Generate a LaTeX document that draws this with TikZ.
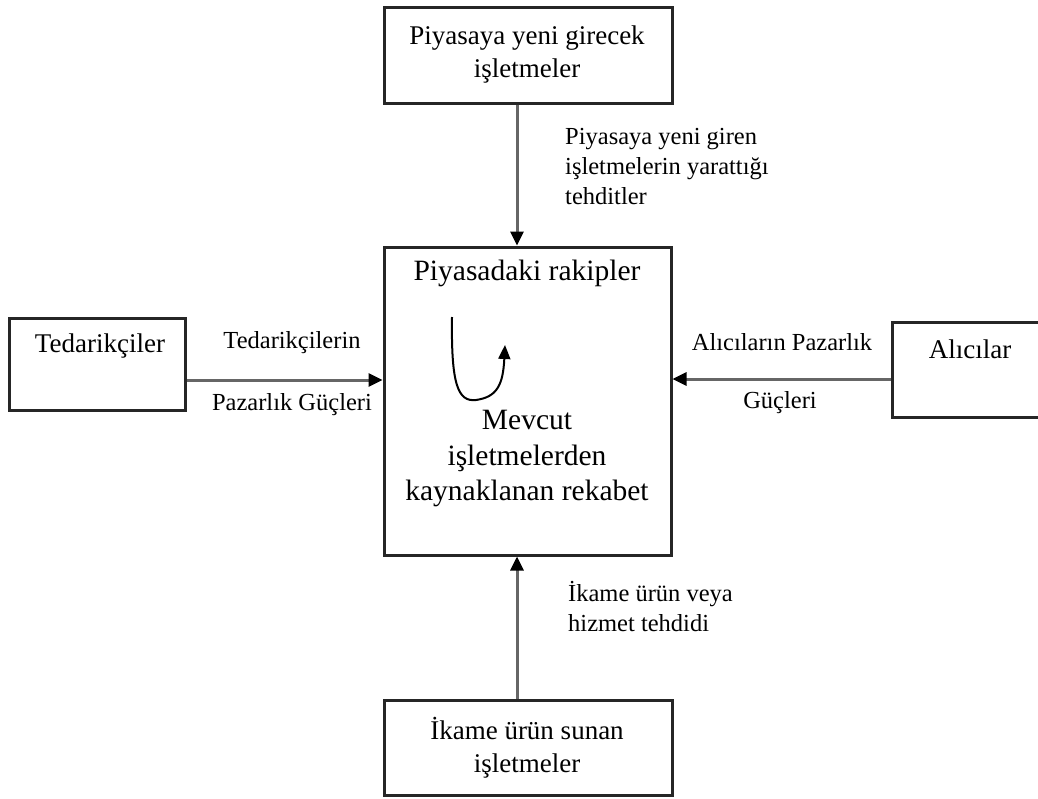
\documentclass[tikz,border=0pt]{standalone}
\usepackage{fontspec}
\setmainfont{Liberation Serif}
\usetikzlibrary{arrows.meta}
\tikzset{
  box/.style={draw=black!85, line width=3pt, inner sep=0pt},
  arr/.style={draw=black!60, line width=3pt, -{Triangle[length=14pt,width=13pt,fill=black,color=black]}},
  boxtext/.style={font=\fontsize{27}{33}\selectfont, align=center, inner sep=0pt},
  midtext/.style={font=\fontsize{29.5}{35.5}\selectfont, align=center, inner sep=0pt},
  lbl/.style={font=\fontsize{24.5}{30}\selectfont, inner sep=0pt},
}
\begin{document}
\begin{tikzpicture}[x=1pt,y=-1pt]
\useasboundingbox (0,0) rectangle (1038,798);
% boxes
\node[box, minimum width=288pt, minimum height=96pt] (top) at (528,55) {};
\node[box, minimum width=287pt, minimum height=308pt] (mid) at (527.5,401) {};
\node[box, minimum width=176pt, minimum height=92pt] (left) at (97,364) {};
\node[box, minimum width=156pt, minimum height=95pt] (right) at (970,369.5) {};
\node[box, minimum width=288pt, minimum height=95pt] (bot) at (528,747.5) {};
% box texts
\node[boxtext] (topt) at (527,55) {Piyasaya yeni girecek\\işletmeler};
\node[boxtext] (leftt) at (100,346) {Tedarikçiler};
\node[boxtext] (rightt) at (970,349) {Alıcılar};
\node[boxtext] (bott) at (527,748) {İkame ürün sunan\\işletmeler};
\node[midtext] (midt1) at (527,273) {Piyasadaki rakipler};
\node[midtext] (midt2) at (527,459) {Mevcut\\işletmelerden\\kaynaklanan rekabet};
% connector guides
\coordinate (vx) at (517,0);
\coordinate (ly) at (0,380);
\coordinate (ry) at (0,379);
\draw[arr] (top.south -| vx) -- (mid.north -| vx);
\draw[arr] (bot.north -| vx) -- (mid.south -| vx);
\draw[arr] (left.east |- ly) -- (mid.west |- ly);
\draw[arr] (right.west |- ry) -- (mid.east |- ry);
% labels
\node[lbl, anchor=west, align=left] (tl) at (565,167) {Piyasaya yeni giren\\işletmelerin yarattığı\\tehditler};
\node[lbl] (ll1) at (292,343) {Tedarikçilerin};
\node[lbl] (ll2) at (292,405) {Pazarlık Güçleri};
\node[lbl] (rl1) at (782,342) {Alıcıların Pazarlık};
\node[lbl] (rl2) at (780,403) {Güçleri};
\node[lbl, anchor=west, align=left] (bl) at (568,607) {İkame ürün veya\\hizmet tehdidi};
% curved arrow
\coordinate (c1) at (452,317);
\coordinate (c2) at (505,345);
\draw[line width=2pt, -{Triangle[length=14pt,width=12pt]}] (c1) .. controls (451,385) and (458,402) .. (476,400) .. controls (497,397) and (503,385) .. (c2);
\end{tikzpicture}
\end{document}
